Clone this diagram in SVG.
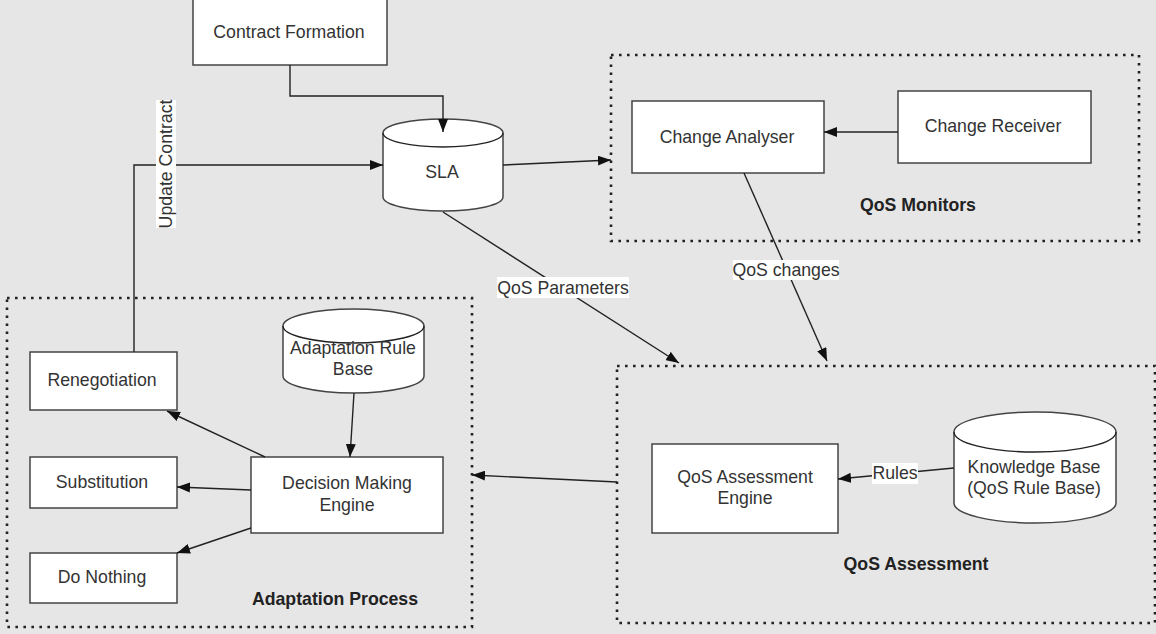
<svg xmlns="http://www.w3.org/2000/svg" width="1156" height="634" viewBox="0 0 1156 634">
<defs>
<style>
.bg{fill:#e6e6e6}
.box{fill:#fff;stroke:#444;stroke-width:1.5}
.grp{fill:none;stroke:#222;stroke-width:2.6;stroke-dasharray:2.6 5.4}
.t{font-family:"Liberation Sans",Arial,sans-serif;font-size:17.7px;fill:#333;text-anchor:middle}
.b{font-family:"Liberation Sans",Arial,sans-serif;font-size:17.7px;font-weight:bold;fill:#222;text-anchor:middle}
.ln{fill:none;stroke:#222;stroke-width:1.4}
.lbg{fill:#fff}
</style>
<marker id="ah" markerUnits="userSpaceOnUse" markerWidth="14" markerHeight="10" refX="13" refY="5" orient="auto">
<path d="M0,0 L13,5 L0,10 z" fill="#111"/>
</marker>
</defs>
<rect class="bg" x="0" y="0" width="1156" height="634"/>

<g id="group-monitors">
<rect class="grp" x="611" y="55" width="528" height="186"/>
<text class="b" x="918" y="211">QoS Monitors</text>
</g>
<g id="group-assessment">
<rect class="grp" x="617" y="366" width="538" height="257"/>
<text class="b" x="916" y="570">QoS Assessment</text>
</g>
<g id="group-adaptation">
<rect class="grp" x="7" y="298" width="465" height="329"/>
<text class="b" x="335" y="605">Adaptation Process</text>
</g>

<g id="contract-formation">
<rect class="box" x="193" y="-1" width="194" height="66"/>
<text class="t" x="289" y="38">Contract Formation</text>
</g>
<g id="sla">
<path class="box" d="M383,133 A60,14 0 0 1 503,133 L503,197 A60,14 0 0 1 383,197 Z"/>
<path class="ln" d="M383,133 A60,14 0 0 0 503,133" stroke="#444"/>
<text class="t" x="442" y="178">SLA</text>
</g>
<g id="change-analyser">
<rect class="box" x="632" y="101" width="192" height="72"/>
<text class="t" x="727" y="143">Change Analyser</text>
</g>
<g id="change-receiver">
<rect class="box" x="898" y="91" width="193" height="72"/>
<text class="t" x="993" y="132">Change Receiver</text>
</g>
<g id="qos-assessment-engine">
<rect class="box" x="652" y="444" width="186" height="89"/>
<text class="t" x="745" y="483">QoS Assessment</text>
<text class="t" x="745" y="504">Engine</text>
</g>
<g id="knowledge-base">
<path class="box" d="M954,432 A81,20 0 0 1 1116,432 L1116,503 A81,20 0 0 1 954,503 Z"/>
<path class="ln" d="M954,432 A81,20 0 0 0 1116,432" stroke="#444"/>
<text class="t" x="1034" y="473">Knowledge Base</text>
<text class="t" x="1034" y="494">(QoS Rule Base)</text>
</g>
<g id="adaptation-rule-base">
<path class="box" d="M283,326 A70.5,17 0 0 1 424,326 L424,376 A70.5,17 0 0 1 283,376 Z"/>
<path class="ln" d="M283,326 A70.5,17 0 0 0 424,326" stroke="#444"/>
<text class="t" x="353" y="354">Adaptation Rule</text>
<text class="t" x="353" y="375">Base</text>
</g>
<g id="decision-making-engine">
<rect class="box" x="251" y="457" width="192" height="76"/>
<text class="t" x="347" y="489">Decision Making</text>
<text class="t" x="347" y="511">Engine</text>
</g>
<g id="renegotiation">
<rect class="box" x="30" y="352" width="147" height="58"/>
<text class="t" x="102" y="386">Renegotiation</text>
</g>
<g id="substitution">
<rect class="box" x="30" y="457" width="147" height="51"/>
<text class="t" x="102" y="488">Substitution</text>
</g>
<g id="do-nothing">
<rect class="box" x="30" y="553" width="147" height="50"/>
<text class="t" x="102" y="583">Do Nothing</text>
</g>

<g id="connectors">
<polyline class="ln" points="290,65 290,96 443,96 443,132" marker-end="url(#ah)"/>
<polyline class="ln" points="134,352 134,165 383,165" marker-end="url(#ah)"/>
<line class="ln" x1="503" y1="165" x2="611" y2="160" marker-end="url(#ah)"/>
<line class="ln" x1="898" y1="132" x2="824" y2="132" marker-end="url(#ah)"/>
<line class="ln" x1="744" y1="173" x2="827" y2="361" marker-end="url(#ah)"/>
<line class="ln" x1="443" y1="212" x2="679" y2="363" marker-end="url(#ah)"/>
<line class="ln" x1="954" y1="468" x2="838" y2="479" marker-end="url(#ah)"/>
<line class="ln" x1="617" y1="482" x2="472" y2="475" marker-end="url(#ah)"/>
<line class="ln" x1="354" y1="393" x2="350" y2="457" marker-end="url(#ah)"/>
<line class="ln" x1="265" y1="457" x2="167" y2="411" marker-end="url(#ah)"/>
<line class="ln" x1="251" y1="490" x2="177" y2="487" marker-end="url(#ah)"/>
<line class="ln" x1="251" y1="528" x2="177" y2="553" marker-end="url(#ah)"/>
<rect class="lbg" x="156" y="100" width="20" height="128"/>
<text class="t" transform="translate(172,164) rotate(-90)" x="0" y="0">Update Contract</text>
<rect class="lbg" x="497" y="277" width="132" height="21"/>
<text class="t" x="563" y="294">QoS Parameters</text>
<rect class="lbg" x="733" y="260" width="106" height="20"/>
<text class="t" x="786" y="276">QoS changes</text>
<rect class="lbg" x="872" y="463" width="46" height="21"/>
<text class="t" x="895" y="479">Rules</text>
</g>
</svg>
